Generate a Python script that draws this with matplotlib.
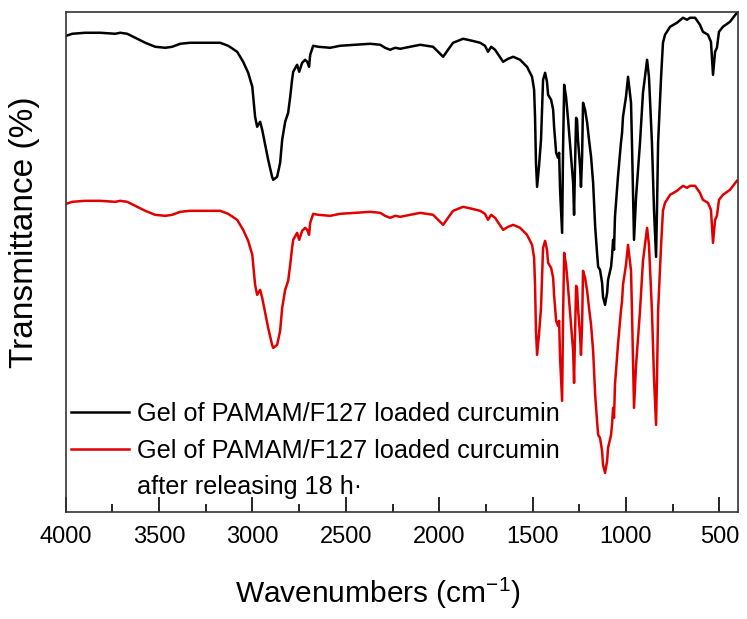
import numpy as np
import matplotlib.pyplot as plt
from matplotlib.lines import Line2D

plt.rcParams['font.family'] = ['Liberation Sans', 'DejaVu Sans']
plt.rcParams['mathtext.fontset'] = 'custom'
plt.rcParams['mathtext.rm'] = 'Liberation Sans'
plt.rcParams['mathtext.default'] = 'rm'

# wavenumbers (cm-1)
wavenumber = [3997, 3965, 3896, 3815, 3735, 3708, 3671, 3628, 3574, 3521,
              3467, 3430, 3387, 3334, 3253, 3173, 3130, 3082, 3050, 3023,
              3001, 2996, 2986, 2975, 2959, 2948, 2932, 2916, 2895, 2889,
              2868, 2852, 2841, 2825, 2809, 2798, 2788, 2782, 2761, 2750,
              2734, 2718, 2707, 2697, 2691, 2675, 2648, 2584, 2531, 2450,
              2370, 2316, 2290, 2263, 2236, 2209, 2156, 2102, 2033, 1979,
              1953, 1926, 1872, 1824, 1781, 1755, 1739, 1722, 1701, 1658,
              1631, 1604, 1567, 1530, 1503, 1492, 1487, 1482, 1476, 1466,
              1455, 1449, 1444, 1433, 1423, 1417, 1401, 1390, 1385, 1374,
              1364, 1358, 1353, 1342, 1337, 1331, 1321, 1310, 1294, 1283,
              1278, 1273, 1267, 1262, 1257, 1246, 1241, 1235, 1230, 1219,
              1208, 1198, 1187, 1176, 1165, 1155, 1149, 1139, 1128, 1123,
              1112, 1101, 1096, 1080, 1075, 1069, 1064, 1059, 1043, 1027,
              1021, 1016, 1000, 989, 973, 968, 962, 957, 946, 925,
              909, 887, 877, 861, 850, 839, 834, 828, 812, 802,
              791, 764, 727, 695, 673, 657, 630, 604, 588, 561,
              545, 534, 523, 513, 502, 481, 443, 406]

# gel of PAMAM/F127 loaded curcumin (upper trace)
t_loaded = [95.2, 95.6, 95.8, 95.8, 95.6, 95.8, 95.6, 94.8, 93.8, 93.0,
            92.8, 93.0, 93.6, 93.8, 93.8, 93.8, 93.2, 92.0, 90.0, 87.8,
            85.0, 83.0, 79.0, 77.0, 78.0, 76.4, 73.4, 70.4, 67.0, 66.4,
            67.0, 69.8, 74.4, 78.0, 79.8, 83.0, 86.4, 88.0, 89.4, 88.0,
            89.8, 90.4, 90.0, 89.0, 91.4, 93.2, 93.0, 92.8, 93.2, 93.4,
            93.6, 93.4, 92.8, 92.4, 92.8, 92.6, 93.0, 93.4, 93.0, 91.0,
            92.4, 93.8, 94.6, 94.2, 93.8, 93.2, 92.0, 93.0, 92.4, 90.0,
            90.6, 91.0, 90.4, 89.0, 87.0, 84.4, 79.0, 69.8, 65.0, 69.0,
            74.4, 81.0, 86.4, 87.8, 86.0, 83.4, 82.4, 80.4, 77.0, 71.8,
            70.8, 71.8, 64.4, 55.8, 72.4, 85.4, 83.0, 78.4, 71.0, 65.8,
            59.4, 69.0, 78.8, 78.4, 74.4, 69.0, 65.0, 71.0, 81.8, 80.4,
            77.8, 74.4, 71.0, 65.8, 57.0, 51.8, 49.0, 48.4, 45.8, 43.0,
            41.4, 43.8, 46.4, 49.0, 51.0, 54.4, 52.4, 59.0, 67.0, 73.8,
            75.8, 79.0, 83.0, 87.0, 81.8, 73.8, 63.0, 54.4, 63.0, 73.8,
            83.8, 90.4, 87.0, 73.8, 60.4, 51.0, 60.4, 73.8, 87.0, 93.8,
            95.4, 97.0, 97.8, 98.8, 98.4, 98.8, 98.8, 97.4, 96.0, 95.4,
            94.0, 87.4, 92.0, 92.8, 96.0, 97.0, 98.0, 99.8]

# same gel after releasing 18 h (lower trace, stacked)
t_released = [61.6, 62.0, 62.2, 62.2, 62.0, 62.2, 62.0, 61.2, 60.2, 59.4,
              59.2, 59.4, 60.0, 60.2, 60.2, 60.2, 59.6, 58.4, 56.4, 54.2,
              51.4, 49.4, 45.4, 43.4, 44.4, 42.8, 39.8, 36.8, 33.4, 32.8,
              33.4, 36.2, 40.8, 44.4, 46.2, 49.4, 52.8, 54.4, 55.8, 54.4,
              56.2, 56.8, 56.4, 55.4, 57.8, 59.6, 59.4, 59.2, 59.6, 59.8,
              60.0, 59.8, 59.2, 58.8, 59.2, 59.0, 59.4, 59.8, 59.4, 57.4,
              58.8, 60.2, 61.0, 60.6, 60.2, 59.6, 58.4, 59.4, 58.8, 56.4,
              57.0, 57.4, 56.8, 55.4, 53.4, 50.8, 45.4, 36.2, 31.4, 35.4,
              40.8, 47.4, 52.8, 54.2, 52.4, 49.8, 48.8, 46.8, 43.4, 38.2,
              37.2, 38.2, 30.8, 22.2, 38.8, 51.8, 49.4, 44.8, 37.4, 32.2,
              25.8, 35.4, 45.2, 44.8, 40.8, 35.4, 31.4, 37.4, 48.2, 46.8,
              44.2, 40.8, 37.4, 32.2, 23.4, 18.2, 15.4, 14.8, 12.2, 9.4,
              7.8, 10.2, 12.8, 15.4, 17.4, 20.8, 18.8, 25.4, 33.4, 40.2,
              42.2, 45.4, 49.4, 53.4, 48.2, 40.2, 29.4, 20.8, 29.4, 40.2,
              50.2, 56.8, 53.4, 40.2, 26.8, 17.4, 26.8, 40.2, 53.4, 60.2,
              61.8, 63.4, 64.2, 65.2, 64.8, 65.2, 65.2, 63.8, 62.4, 61.8,
              60.4, 53.8, 58.4, 59.2, 62.4, 63.4, 64.4, 66.2]

labels = ['Gel of PAMAM/F127 loaded curcumin',
          'Gel of PAMAM/F127 loaded curcumin',
          'after releasing 18 h\u00b7']

fig = plt.figure(figsize=(7.47, 6.19), dpi=100)
ax = fig.add_axes([0.088, 0.173, 0.9, 0.808])

ax.plot(wavenumber, t_loaded, color='black', lw=1.8)
ax.plot(wavenumber, t_released, color='#e00000', lw=1.8)

ax.set_xlim(4000, 400)
ax.set_ylim(0, 100)
ax.set_xticks(np.arange(4000, 499, -500))
ax.set_xticks(np.arange(3750, 499, -500), minor=True)
ax.set_yticks([])
ax.tick_params(axis='x', which='major', direction='in', length=11, width=1.2,
               pad=10, labelsize=17)
ax.tick_params(axis='x', which='minor', direction='in', length=6, width=1.2)
for s in ax.spines.values():
    s.set_linewidth(1.2)
    s.set_color('#333333')

ax.set_xlabel('Wavenumbers (cm$^{-1}$)', fontsize=21.5)
ax.xaxis.set_label_coords(0.465, -0.128)
ax.set_ylabel('Transmittance (%)', fontsize=24)
ax.yaxis.set_label_coords(-0.038, 0.56)

handles = [Line2D([], [], color='black', lw=1.8),
           Line2D([], [], color='#e00000', lw=1.8),
           Line2D([], [], color='none')]
ax.legend(handles, labels, loc='lower left', bbox_to_anchor=(-0.026, -0.02),
          frameon=False, fontsize=18.2, handlelength=2.3, handletextpad=0.3,
          labelspacing=0.5, borderpad=0.4)

fig.savefig('out.png', dpi=100)
